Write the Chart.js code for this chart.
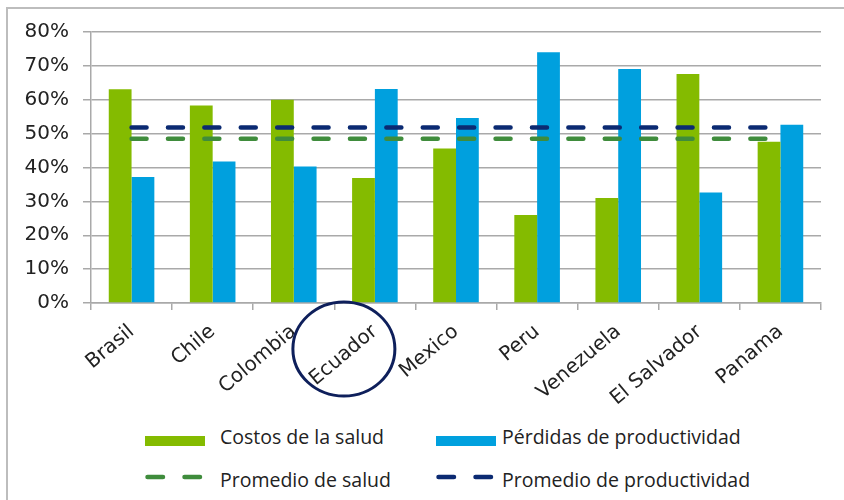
<!DOCTYPE html>
<html lang="es">
<head>
<meta charset="utf-8">
<title>Costos de la salud y pérdidas de productividad</title>
<script src="https://cdn.jsdelivr.net/npm/chart.js@4.4.1/dist/chart.umd.min.js"></script>
<style>
  body { margin: 0; width: 844px; height: 500px; background: #fff; position: relative; overflow: hidden; }
  /* marco gris del grafico */
  #marco { position: absolute; left: 6px; top: 7px; width: 900px; height: 600px;
           border-top: 2px solid #bdbdbd; border-left: 2px solid #bdbdbd; }
  #contenedor { position: absolute; left: 0; top: 0; width: 844px; height: 412px; }
  .muestra { position: absolute; }
  .texto { position: absolute; height: 24px; line-height: 24px; white-space: nowrap;
           font-family: "Open Sans", sans-serif; font-size: 19.5px; color: #222; }
</style>
</head>
<body>
<div id="marco"></div>
<div id="contenedor"><canvas id="chartCostos" width="844" height="412"></canvas></div>
<div id="leyenda"></div>
<script>
/* Datos por pais (porcentaje) */
const paises = ["Brasil", "Chile", "Colombia", "Ecuador", "Mexico", "Peru", "Venezuela", "El Salvador", "Panama"];
const costosSalud = [63.1, 58.3, 60.0, 36.9, 45.6, 26.0, 31.0, 67.6, 47.6];
const perdidasProductividad = [37.2, 41.8, 40.3, 63.2, 54.6, 74.0, 69.1, 32.6, 52.6];
const promedioSalud = [48.5, 48.5, 48.5, 48.5, 48.5, 48.5, 48.5, 48.5, 48.5];
const promedioProductividad = [51.8, 51.8, 51.8, 51.8, 51.8, 51.8, 51.8, 51.8, 51.8];
const marcasEje = { min: 0, max: 80, paso: 10 };
const paisMarcado = "Ecuador";

const canvas = document.getElementById("chartCostos");
const context = canvas.getContext("2d");

const fuenteEjes = { family: "DejaVu Sans", size: 20 };
const grisEje = "#a9a9a9";

/* circulo alrededor del pais marcado */
const circuloPais = {
  id: "circuloPais",
  afterDraw(chart) {
    const { ctx, scales } = chart;
    const cx = scales.x.getPixelForValue(paises.indexOf(paisMarcado)) - 31;
    const cy = scales.y.bottom + 46;
    ctx.save();
    ctx.beginPath();
    ctx.ellipse(cx, cy, 51, 47, 0, 0, Math.PI * 2);
    ctx.lineWidth = 3;
    ctx.strokeStyle = "#0e1f5b";
    ctx.stroke();
    ctx.restore();
  },
};

const chartCostos = new Chart(context, {
  type: "bar",
  data: {
    labels: paises,
    datasets: [
      {
        label: "Costos de la salud",
        data: costosSalud,
        backgroundColor: "#84bb00",
        order: 2,
      },
      {
        label: "Pérdidas de productividad",
        data: perdidasProductividad,
        backgroundColor: "#00a0de",
        order: 2,
      },
      {
        type: "line",
        label: "Promedio de salud",
        data: promedioSalud,
        borderColor: "#3f8c3c",
        borderWidth: 4.5,
        borderDash: [15, 21.4],
        borderCapStyle: "round",
        pointRadius: 0,
        order: 1,
      },
      {
        type: "line",
        label: "Promedio de productividad",
        data: promedioProductividad,
        borderColor: "#0b2a72",
        borderWidth: 4.5,
        borderDash: [15, 21.4],
        borderCapStyle: "round",
        pointRadius: 0,
        order: 1,
      },
    ],
  },
  options: {
    responsive: false,
    animation: false,
    categoryPercentage: 0.562,
    barPercentage: 1,
    layout: { padding: { left: 0, right: 23, top: 32, bottom: 0 } },
    plugins: {
      legend: { display: false },
      tooltip: { enabled: false },
    },
    scales: {
      x: {
        grid: { offset: true, drawOnChartArea: false, color: grisEje, lineWidth: 1.5, tickLength: 7 },
        border: { color: grisEje, width: 1.5 },
        ticks: {
          autoSkip: false,
          minRotation: 40,
          maxRotation: 40,
          padding: 10,
          color: "#222",
          font: fuenteEjes,
        },
        afterFit: (escala) => { escala.height = 109; },
      },
      y: {
        min: marcasEje.min,
        max: marcasEje.max,
        grid: { color: grisEje, lineWidth: 1.5, tickLength: 8 },
        border: { color: grisEje, width: 1.5 },
        ticks: {
          stepSize: marcasEje.paso,
          padding: 14,
          color: "#222",
          font: fuenteEjes,
          callback: (valor) => valor + "%",
        },
        afterFit: (escala) => { escala.width = 91; },
      },
    },
  },
  plugins: [circuloPais],
});

/* leyenda en dos columnas debajo del grafico */
const leyenda = document.getElementById("leyenda");
const columnas = [{ muestra: 145, texto: 220 }, { muestra: 436, texto: 502 }];
const filas = [{ muestra: 441, texto: 437 }, { muestra: 477, texto: 480 }];

chartCostos.data.datasets.forEach((ds, i) => {
  const col = columnas[i % 2];
  const fila = filas[Math.floor(i / 2)];
  let muestra;
  if (ds.type === "line") {
    muestra = document.createElementNS("http://www.w3.org/2000/svg", "svg");
    muestra.setAttribute("width", "60");
    muestra.setAttribute("height", "10");
    muestra.innerHTML = `<line x1="2.5" y1="5" x2="58" y2="5" stroke="${ds.borderColor}" stroke-width="4.5"
      stroke-linecap="round" stroke-dasharray="15.5 21.5"/>`;
    muestra.style.left = col.muestra + "px";
    muestra.style.top = fila.muestra - 5 + "px";
  } else {
    muestra = document.createElement("div");
    muestra.style.left = col.muestra + "px";
    muestra.style.top = fila.muestra - 5 + "px";
    muestra.style.width = "60px";
    muestra.style.height = "10px";
    muestra.style.background = ds.backgroundColor;
  }
  muestra.classList.add("muestra");
  leyenda.appendChild(muestra);

  const texto = document.createElement("div");
  texto.className = "texto";
  texto.textContent = ds.label;
  texto.style.left = col.texto + "px";
  texto.style.top = fila.texto - 12 + "px";
  leyenda.appendChild(texto);
});
</script>
</body>
</html>
